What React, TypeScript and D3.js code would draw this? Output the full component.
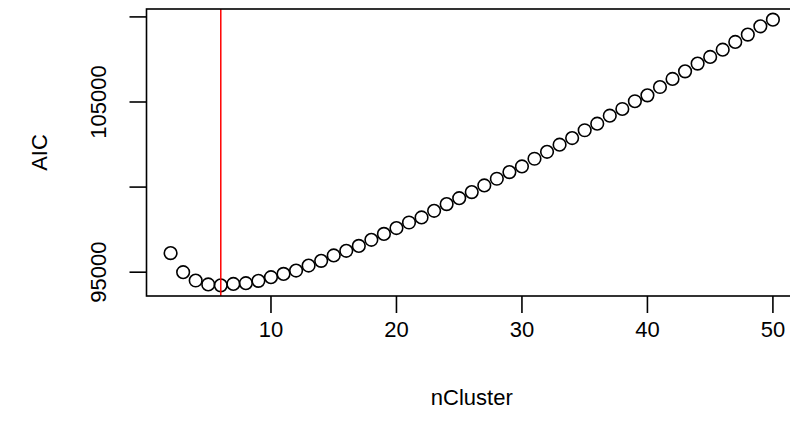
import React from "react";
import * as d3 from "d3";

// AIC for each number of clusters
const nCluster: number[] = d3.range(2, 51);
const aic: number[] = [
  96120, 95000, 94510, 94280, 94225, 94310, 94355, 94490, 94705, 94900,
  95095, 95390, 95665, 95985, 96255, 96545, 96900, 97250, 97590, 97920,
  98215, 98605, 99000, 99350, 99705, 100095, 100490, 100880, 101215, 101665,
  102075, 102490, 102880, 103340, 103725, 104195, 104590, 105045, 105390, 105880,
  106355, 106800, 107255, 107650, 108075, 108530, 108960, 109445, 109840,
];
const xTicks = [10, 20, 30, 40, 50];
const yTicks = [95000, 100000, 105000, 110000];
const yTickLabels = ["95000", "", "105000", ""];
const bestK = 6;

const width = 790;
const height = 437;
const plot = { left: 146.5, right: 797, top: 9, bottom: 296 };
const font = "'Liberation Sans', Arial, Helvetica, sans-serif";
const fontSize = 22;

function App() {
  // R style 4% padding
  const xExt = d3.extent(nCluster) as [number, number];
  const yExt = d3.extent(aic) as [number, number];
  const xPad = (xExt[1] - xExt[0]) * 0.04;
  const yPad = (yExt[1] - yExt[0]) * 0.04;

  const x = d3
    .scaleLinear()
    .domain([xExt[0] - xPad, xExt[1] + xPad])
    .range([plot.left, plot.right]);
  const y = d3
    .scaleLinear()
    .domain([yExt[0] - yPad, yExt[1] + yPad])
    .range([plot.bottom, plot.top]);

  const tick = 17;

  return (
    <svg
      width={width}
      height={height}
      style={{ position: "absolute", left: 0, top: 0, background: "#fff" }}
      fontFamily={font}
    >
      <defs>
        <clipPath id="plotclip">
          <rect
            x={plot.left}
            y={plot.top}
            width={plot.right - plot.left}
            height={plot.bottom - plot.top}
          />
        </clipPath>
      </defs>

      {nCluster.map((k, i) => (
        <circle
          key={k}
          cx={x(k)}
          cy={y(aic[i])}
          r={6.3}
          fill="none"
          stroke="#000"
          strokeWidth={1.6}
        />
      ))}

      <line
        x1={x(bestK)}
        x2={x(bestK)}
        y1={plot.top}
        y2={plot.bottom}
        stroke="#ff0000"
        strokeWidth={1.5}
        clipPath="url(#plotclip)"
      />

      <rect
        x={plot.left}
        y={plot.top}
        width={plot.right - plot.left}
        height={plot.bottom - plot.top}
        fill="none"
        stroke="#000"
        strokeWidth={1.6}
      />

      {/* x axis */}
      <g>
        {xTicks.map((t) => (
          <g key={t}>
            <line
              x1={x(t)}
              x2={x(t)}
              y1={plot.bottom}
              y2={plot.bottom + tick}
              stroke="#000"
              strokeWidth={1.6}
            />
            <text x={x(t)} y={337} textAnchor="middle" fontSize={fontSize}>
              {t}
            </text>
          </g>
        ))}
        <text
          x={(plot.left + plot.right) / 2}
          y={405}
          textAnchor="middle"
          fontSize={fontSize}
        >
          nCluster
        </text>
      </g>

      {/* y axis */}
      <g>
        {yTicks.map((t, i) => (
          <g key={t}>
            <line
              x1={plot.left - tick}
              x2={plot.left}
              y1={y(t)}
              y2={y(t)}
              stroke="#000"
              strokeWidth={1.6}
            />
            <text
              transform={`translate(${plot.left - 41},${y(t)}) rotate(-90)`}
              textAnchor="middle"
              fontSize={fontSize}
            >
              {yTickLabels[i]}
            </text>
          </g>
        ))}
        <text
          transform={`translate(47,${(plot.top + plot.bottom) / 2}) rotate(-90)`}
          textAnchor="middle"
          fontSize={fontSize}
        >
          AIC
        </text>
      </g>
    </svg>
  );
}

export default App;
